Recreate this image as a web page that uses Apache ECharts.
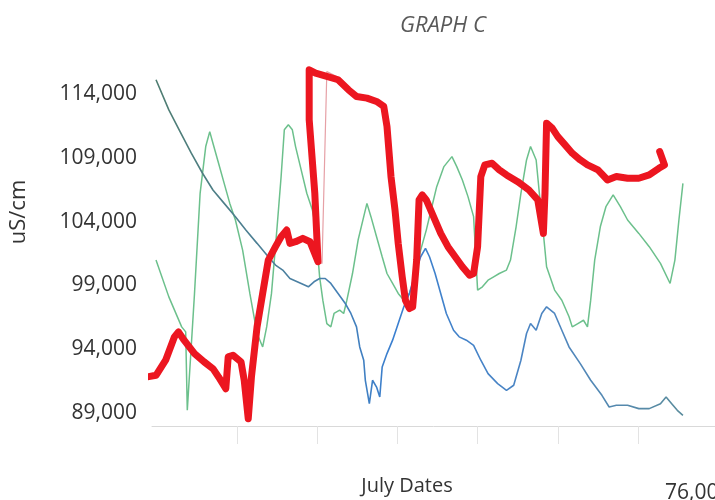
<!DOCTYPE html>
<html>
<head>
<meta charset="utf-8">
<script src="https://cdn.jsdelivr.net/npm/echarts@6/dist/echarts.min.js"></script>
<style>html,body{margin:0;padding:0;background:#fff}#c{width:715px;height:500px}</style>
</head>
<body>
<div id="c"></div>
<script>
// x = position along the July date axis (one unit per tick interval), y = conductivity in uS/cm
const redLine = [[-0.12,91840],[-0.01,91970],[0.11,93150],[0.22,94980],[0.27,95370],[0.34,94720],[0.47,93670],[0.59,93020],[0.70,92490],[0.77,91840],[0.86,90920],[0.89,93410],[0.95,93540],[1.05,93020],[1.09,91580],[1.14,88570],[1.18,91840],[1.25,95760],[1.32,98380],[1.39,100990],[1.48,102040],[1.55,102820],[1.62,103340],[1.66,102300],[1.73,102430],[1.82,102690],[1.91,102430],[2.01,100860],[1.97,106220],[1.90,111970],[1.90,115890],[1.98,115630],[2.12,115370],[2.26,115110],[2.39,114320],[2.49,113800],[2.62,113670],[2.74,113410],[2.83,113020],[2.87,111450],[2.92,107530],[2.97,104910],[3.01,102300],[3.06,99680],[3.10,97850],[3.15,97200],[3.19,97330],[3.24,100990],[3.27,105700],[3.31,106090],[3.36,105700],[3.45,104390],[3.54,103080],[3.63,102040],[3.72,101250],[3.81,100470],[3.90,99810],[3.95,99940],[4.00,102040],[4.04,107530],[4.09,108440],[4.18,108570],[4.27,108050],[4.36,107660],[4.50,107130],[4.64,106480],[4.75,105700],[4.82,103080],[4.84,106220],[4.86,111710],[4.93,111320],[5.00,110660],[5.09,110010],[5.18,109360],[5.28,108830],[5.37,108440],[5.50,108050],[5.62,107260],[5.73,107530],[5.87,107400],[6.01,107400],[6.14,107660],[6.26,108180],[6.33,108440],[6.27,109490]];
const thinRedLine = [[1.91,102430],[1.98,100990],[2.06,100730],[2.12,115760],[2.28,115240],[2.49,113930]];
const blueLine = [[-0.01,115110],[0.15,112750],[0.29,111050],[0.43,109360],[0.57,107790],[0.70,106480],[0.84,105430],[0.98,104390],[1.11,103340],[1.25,102300],[1.39,101250],[1.48,100600],[1.57,100210],[1.66,99550],[1.80,99160],[1.89,98900],[1.96,99290],[2.03,99550],[2.10,99550],[2.17,99160],[2.26,98380],[2.35,97590],[2.42,96810],[2.49,95760],[2.53,94190],[2.58,93150],[2.60,91580],[2.65,89750],[2.69,91580],[2.74,91050],[2.78,90270],[2.81,92620],[2.87,93670],[2.94,94720],[3.01,96020],[3.08,97330],[3.15,98380],[3.22,99940],[3.29,101250],[3.35,101900],[3.40,101250],[3.47,99940],[3.54,98380],[3.61,96810],[3.70,95500],[3.77,94980],[3.86,94720],[3.95,94320],[4.04,93150],[4.13,92100],[4.25,91320],[4.36,90790],[4.45,91190],[4.54,93150],[4.61,95240],[4.66,96020],[4.73,95500],[4.80,96810],[4.86,97330],[4.96,96810],[5.05,95500],[5.14,94190],[5.28,92880],[5.41,91580],[5.55,90400],[5.64,89490],[5.73,89620],[5.87,89620],[6.01,89360],[6.14,89360],[6.28,89750],[6.35,90270],[6.42,89750],[6.49,89230],[6.56,88830]];
const greenLine = [[-0.01,100990],[0.15,98110],[0.31,95760],[0.36,95370],[0.38,89230],[0.47,98380],[0.54,106220],[0.61,109880],[0.66,111050],[0.70,110140],[0.77,108570],[0.84,107000],[0.91,105430],[0.98,104130],[1.07,101770],[1.16,98380],[1.25,95240],[1.32,94190],[1.37,95760],[1.43,98380],[1.50,103600],[1.55,107530],[1.59,111190],[1.64,111580],[1.69,111190],[1.73,109880],[1.80,108050],[1.87,106220],[1.94,104910],[1.98,103600],[2.03,99680],[2.07,97850],[2.12,96020],[2.17,95760],[2.21,96810],[2.28,97070],[2.33,96810],[2.37,97850],[2.44,99940],[2.51,102560],[2.58,104390],[2.62,105430],[2.67,104390],[2.74,102820],[2.81,101250],[2.87,99940],[2.94,99160],[3.01,98380],[3.08,97850],[3.15,98380],[3.22,99680],[3.29,101770],[3.36,103340],[3.42,104910],[3.49,106740],[3.58,108310],[3.68,109090],[3.74,108310],[3.81,107260],[3.88,105960],[3.95,104390],[4.00,98640],[4.06,98900],[4.13,99420],[4.20,99680],[4.27,99940],[4.36,100210],[4.41,100990],[4.48,103600],[4.54,106220],[4.61,108830],[4.66,109880],[4.73,108830],[4.77,106220],[4.82,103080],[4.86,100470],[4.96,98640],[5.05,97850],[5.14,96550],[5.18,95760],[5.25,96020],[5.32,96280],[5.37,95760],[5.41,97850],[5.46,100990],[5.53,103600],[5.60,105170],[5.69,106090],[5.78,105170],[5.87,104130],[6.01,103080],[6.14,102040],[6.28,100730],[6.40,99160],[6.46,100990],[6.51,104130],[6.56,107000]];
const yTickValues = [89000, 94000, 99000, 104000, 109000, 114000];
const xTickValues = [1, 2, 3, 4, 5, 6];
const titleText = 'GRAPH C';
const yTitle = 'uS/cm';
const xTitle = 'July Dates';
const strayText = '76,000';

const chart = echarts.init(document.getElementById('c'), null, {renderer: 'canvas'});
const font = 'Open Sans';
chart.setOption({
  animation: false,
  backgroundColor: '#ffffff',
  title: {
    text: titleText, left: 395, top: 10,
    textStyle: {fontFamily: font, fontStyle: 'italic', fontWeight: 'normal', fontSize: 22, color: '#595959'}
  },
  grid: {left: 152, right: 0, top: 62, bottom: 74, containLabel: false},
  xAxis: {
    type: 'value', min: -0.06, max: 6.96,
    axisLine: {show: true, lineStyle: {color: '#d9d9d9', width: 1}},
    axisTick: {show: true, customValues: xTickValues, length: 18, lineStyle: {color: '#e3e3e3'}},
    axisLabel: {show: false},
    splitLine: {show: false}
  },
  yAxis: {
    type: 'value', min: 88000, max: 116500,
    axisLine: {show: false}, axisTick: {show: false}, splitLine: {show: false},
    axisLabel: {
      customValues: yTickValues, margin: 15,
      fontFamily: font, fontSize: 21, color: '#333333',
      formatter: v => v.toLocaleString('en-US')
    }
  },
  graphic: [
    {type: 'text', x: 8, y: 212, rotation: Math.PI / 2,
     style: {text: yTitle, fontFamily: font, fontSize: 22, fill: '#333333', align: 'center', verticalAlign: 'top'}},
    {type: 'text', x: 407, y: 486,
     style: {text: xTitle, fontFamily: font, fontSize: 20, fill: '#333333', align: 'center', verticalAlign: 'middle'}},
    {type: 'text', x: 665, y: 483,
     style: {text: strayText, fontFamily: font, fontSize: 21, fill: '#333333', align: 'left', verticalAlign: 'top'}}
  ],
  series: [
    {type: 'line', data: greenLine, showSymbol: false, symbol: 'none', clip: false, z: 2,
     lineStyle: {color: '#6cc08c', width: 1.5}},
    {type: 'line', data: blueLine, showSymbol: false, symbol: 'none', clip: false, z: 3,
     lineStyle: {width: 1.6, color: new echarts.graphic.LinearGradient(0, 0, 1, 0, [
       {offset: 0, color: '#4f7d70'}, {offset: 0.3, color: '#4a80a8'},
       {offset: 0.45, color: '#3a7fd0'}, {offset: 0.75, color: '#4f86c0'}, {offset: 1, color: '#5a8c9c'}])}},
    {type: 'line', data: thinRedLine, showSymbol: false, symbol: 'none', clip: false, z: 4,
     lineStyle: {color: '#e6a0a6', width: 1.2}},
    {type: 'line', data: redLine, showSymbol: false, symbol: 'none', clip: false, z: 5,
     lineStyle: {color: '#ec1620', width: 7, cap: 'round', join: 'round'}}
  ]
});
</script>
</body>
</html>
